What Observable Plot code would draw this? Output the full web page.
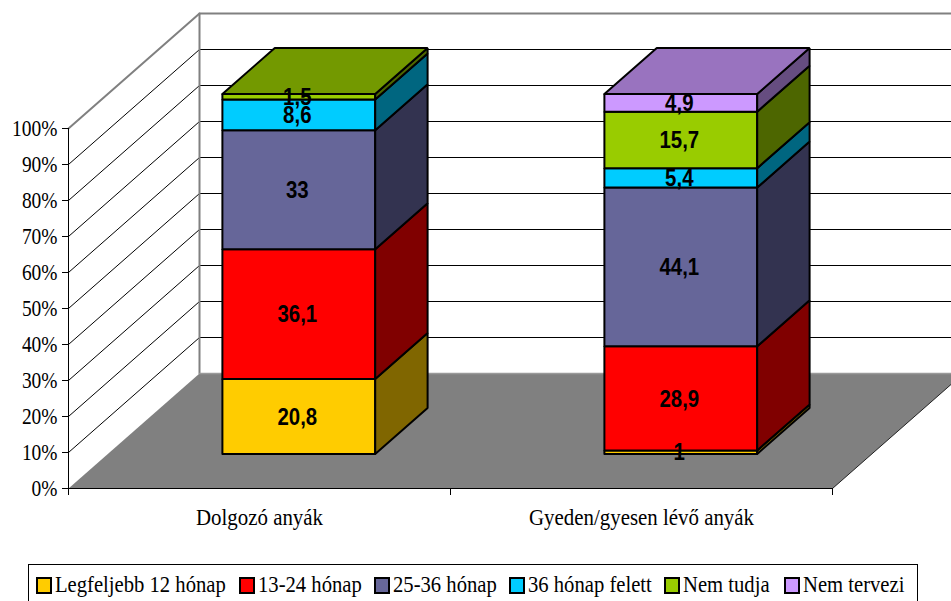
<!DOCTYPE html>
<html lang="hu">
<head>
<meta charset="utf-8">
<script src="https://cdn.jsdelivr.net/npm/d3@7"></script>
<script src="https://cdn.jsdelivr.net/npm/@observablehq/plot@0.6"></script>
<style>
html,body{margin:0;padding:0;background:#fff;overflow:hidden;width:951px;height:601px}
svg{display:block}
#legend{position:absolute;left:28px;top:564px;width:888px;height:50px;border:1px solid #000;box-sizing:content-box;
 font-family:"Liberation Serif","Times New Roman",serif;font-size:24px;color:#000}
#legend .it{position:absolute;top:11px;height:18px;line-height:18px;white-space:nowrap}
#legend .sw{position:absolute;left:0;top:1px;width:12px;height:13px;border:2px solid #000;background:#000}
#legend .tx{position:absolute;left:19px;top:-1px;transform-origin:left center;transform:scaleX(.86)}
</style>
</head>
<body>
<div id="chart"></div>
<div id="legend"></div>
<script>
const categories = ["Dolgozó anyák", "Gyeden/gyesen lévő anyák"];
const seriesNames = ["Legfeljebb 12 hónap", "13-24 hónap", "25-36 hónap", "36 hónap felett", "Nem tudja", "Nem tervezi"];
const legfeljebb12 = [20.8, 1];
const honap13_24 = [36.1, 28.9];
const honap25_36 = [33, 44.1];
const honap36felett = [8.6, 5.4];
const nemTudja = [1.5, 15.7];
const nemTervezi = [0, 4.9];
const valueLabels = [
  ["20,8", "1"], ["36,1", "28,9"], ["33", "44,1"], ["8,6", "5,4"], ["1,5", "15,7"], [null, "4,9"]
];
const seriesValues = [legfeljebb12, honap13_24, honap25_36, honap36felett, nemTudja, nemTervezi];
const frontColors = ["#FFCC00", "#FF0000", "#666699", "#00CCFF", "#99CC00", "#CC99FF"];
const sideColors  = ["#806600", "#800000", "#333350", "#006680", "#4D6600", "#664D80"];
const topColors   = ["#BF9900", "#BF0000", "#4D4D73", "#0099BF", "#739900", "#9973BF"];
const yTicks = [0, 10, 20, 30, 40, 50, 60, 70, 80, 90, 100];

// oblique projection: depth 0 (front plane) .. 1 (back wall), expressed in data units
const DX = 131 / 382, DY = 115 / 3.6, XMAX = 2;
const px = (x, d) => x + d * DX, py = (v, d) => v + d * DY;
const P = (x, v, d) => ({x: px(x, d), y: py(v, d)});
const barHalf = 0.2, dFront = 0.3, dBack = 0.7;

const polys = [];
const addPoly = (id, fill, pts) => pts.concat(pts[0]).forEach(p => polys.push({id, fill, ...p}));
const labels = [];
categories.forEach((c, i) => {
  const cx = i + 0.5, x0 = cx - barHalf, x1 = cx + barHalf;
  let base = 0, last = -1;
  seriesValues.forEach((vals, s) => {
    const v = vals[i];
    if (!v) return;
    const top = base + v, id = `${i}-${s}`;
    addPoly(id + "f", frontColors[s], [P(x0, base, dFront), P(x1, base, dFront), P(x1, top, dFront), P(x0, top, dFront)]);
    addPoly(id + "s", sideColors[s], [P(x1, base, dFront), P(x1, base, dBack), P(x1, top, dBack), P(x1, top, dFront)]);
    labels.push({...P(cx, base + v / 2, dFront), text: valueLabels[s][i]});
    base = top; last = s;
  });
  addPoly(`${i}-top`, topColors[last], [P(x0, base, dFront), P(x1, base, dFront), P(x1, base, dBack), P(x0, base, dBack)]);
});

const floor = [P(0,0,0), P(XMAX,0,0), P(XMAX,0,1), P(0,0,1), P(0,0,0)];
const grid = yTicks.filter(t => t > 0 && t < 100).flatMap(t => [
  {id:t, ...P(0,t,0)}, {id:t, ...P(0,t,1)}, {id:t, ...P(XMAX,t,1)}
]);

const svg = Plot.plot({
  width: 951, height: 564,
  marginLeft: 68, marginRight: 119, marginTop: 128, marginBottom: 76,
  x: {domain: [0, XMAX], axis: null},
  y: {domain: [0, 100], axis: null},
  color: {type: "identity"},
  style: {background: "#fff", overflow: "hidden"},
  marks: [
    Plot.line(floor, {x:"x", y:"y", fill:"#808080", stroke:"none"}),
    Plot.line(grid, {x:"x", y:"y", z:"id", stroke:"#000", strokeWidth:1}),
    Plot.line([P(0,0,1), P(0,100,1), P(XMAX,100,1)], {x:"x", y:"y", stroke:"#808080", strokeWidth:2}),
    Plot.line([P(0,100,0), P(0,100,1)], {x:"x", y:"y", stroke:"#808080", strokeWidth:2}),
    Plot.line([P(0,0,1), P(XMAX,0,1)], {x:"x", y:"y", stroke:"#9a9a9a", strokeWidth:1.5}),
    Plot.line([P(XMAX,0,0), P(XMAX,0,1)], {x:"x", y:"y", stroke:"#222", strokeWidth:1}),
    Plot.ruleX([0], {y1:0, y2:100, stroke:"#000", strokeWidth:1}),
    Plot.ruleY([0], {x1:0, x2:XMAX, stroke:"#000", strokeWidth:1}),
    Plot.axisY({ticks: yTicks, tickSize: 6, tickPadding: 5, tickFormat: d => d + "%", label: null,
      fontSize: 24, fontFamily: "Liberation Serif"}),
    Plot.axisX({ticks: [0, 1, 2], tickSize: 7, tickFormat: () => "", label: null}),
    Plot.axisX({ticks: [0.5, 1.5], tickSize: 0, tickPadding: 19, tickFormat: d => categories[Math.floor(d)], label: null,
      fontSize: 24, fontFamily: "Liberation Serif"}),
    Plot.line(polys, {x:"x", y:"y", z:"id", fill:"fill", stroke:"#000", strokeWidth:2, strokeLinejoin:"miter"}),
    Plot.text(labels, {x:"x", y:"y", dx:-1.5, dy:0.5, text:"text", fontSize:24, fontWeight:"bold", fontFamily:"Liberation Sans", fill:"#000"})
  ]
});
document.getElementById("chart").append(svg);
svg.querySelectorAll("text").forEach(t => {
  if (!t.textContent) return;
  const role = t.closest("g[aria-label]")?.getAttribute("aria-label") || "";
  const k = role.startsWith("y-axis") ? 0.81 : role.startsWith("x-axis") ? 0.87 : 0.85;
  t.setAttribute("textLength", (t.getComputedTextLength() * k).toFixed(1));
  t.setAttribute("lengthAdjust", "spacingAndGlyphs");
});

const legendLeft = [7, 210, 345, 480, 635, 755];
const legend = document.getElementById("legend");
seriesNames.forEach((n, i) => {
  const it = document.createElement("div");
  it.className = "it";
  it.style.left = legendLeft[i] + "px";
  const sw = document.createElement("span"); sw.className = "sw"; sw.style.background = frontColors[i];
  const tx = document.createElement("span"); tx.className = "tx"; tx.textContent = n;
  it.append(sw, tx);
  legend.append(it);
});
</script>
</body>
</html>
